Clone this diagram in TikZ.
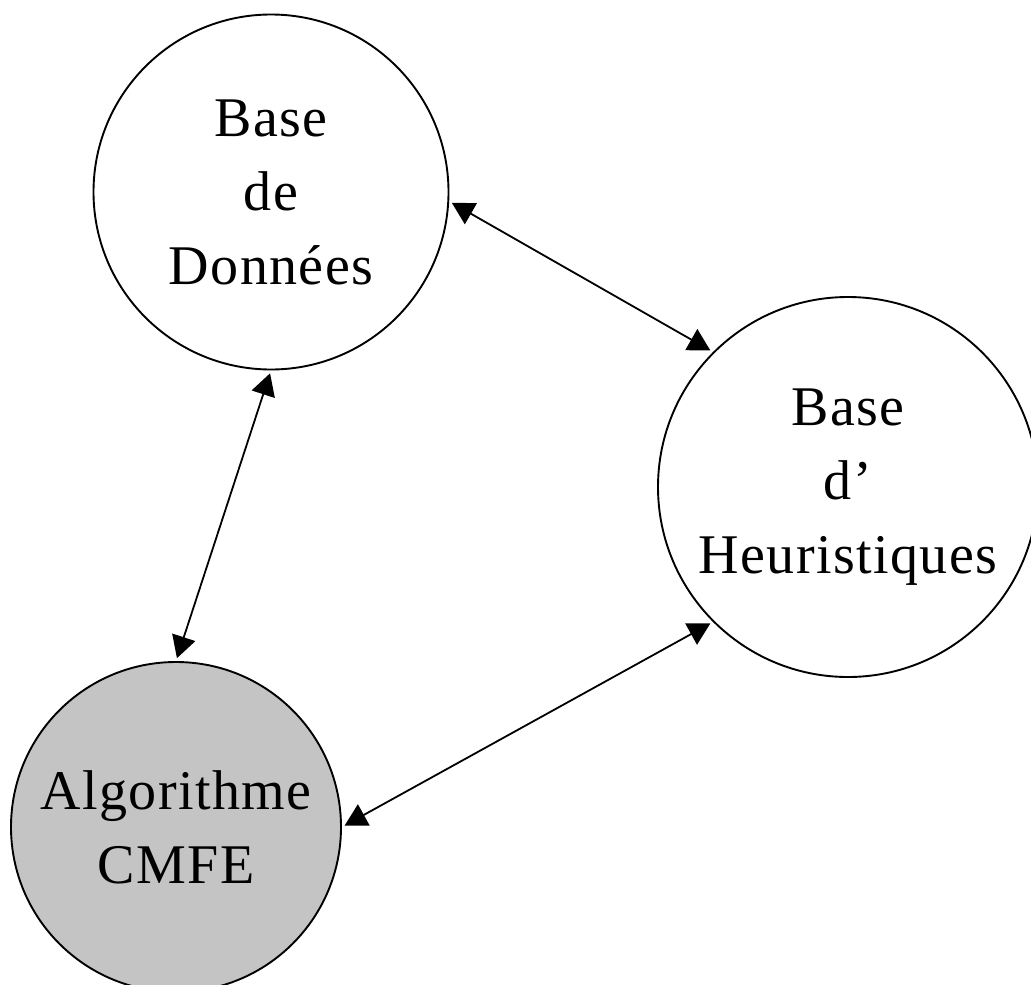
\documentclass[tikz,border=0pt]{standalone}
\usepackage{fontspec}
\setmainfont{Liberation Serif}[LetterSpace=2.5]
\usetikzlibrary{arrows.meta}
\begin{document}
\begin{tikzpicture}[x=1pt,y=-1pt,
  bubble/.style={circle,draw=black,line width=1.9pt,inner sep=0pt,align=center,
    font=\fontsize{56}{74}\selectfont},
  link/.style={line width=1.8pt,{Triangle[length=22pt,width=24pt]}-{Triangle[length=22pt,width=24pt]},
    shorten <=3pt,shorten >=3pt}]
\useasboundingbox (0,0) rectangle (1031,985);
\node[bubble,minimum size=355pt] (db) at (271,192) {Base\\de\\Données};
\node[bubble,minimum size=380pt] (heur) at (848,487) {Base\\d’\\Heuristiques};
\node[bubble,minimum size=330pt,fill=black!23] (algo) at (176,827) {Algorithme\\CMFE};
\draw[link] (db.-3) -- (heur.135);
\draw[link] (db.south) -- (algo.north);
\draw[link] (heur.225) -- (algo.east);
\end{tikzpicture}
\end{document}
